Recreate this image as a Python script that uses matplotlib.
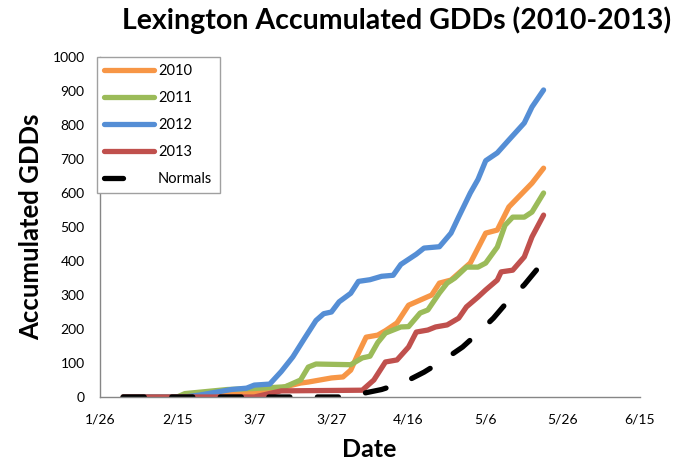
import matplotlib
matplotlib.use('Agg')
import matplotlib.pyplot as plt
from matplotlib.lines import Line2D
import pandas as pd

plt.rcParams['font.family'] = ['Lato', 'DejaVu Sans']

YEAR = '2013'

dates_2010 = ['2/1', '2/19', '2/25', '3/7', '3/12', '3/15', '3/19', '3/21', '3/27', '3/30',
              '4/1', '4/3', '4/5', '4/8', '4/10', '4/13', '4/16', '4/19', '4/22', '4/24',
              '4/27', '5/2', '5/6', '5/9', '5/12', '5/15', '5/18', '5/21']
gdd_2010 = [0, 0, 5, 12, 20, 30, 41, 44, 56, 59,
            79, 129, 176, 182, 195, 218, 270, 285, 300, 335,
            344, 394, 482, 491, 559, 594, 629, 673]

dates_2011 = ['2/1', '2/15', '2/17', '2/28', '3/7', '3/15', '3/19', '3/21', '3/23', '4/1',
              '4/4', '4/6', '4/8', '4/10', '4/14', '4/16', '4/19', '4/21', '4/24', '4/26',
              '4/28', '5/1', '5/4', '5/6', '5/9', '5/11', '5/13', '5/16', '5/18', '5/21']
gdd_2011 = [0, 0, 10, 22, 25, 30, 50, 88, 97, 95,
            115, 120, 160, 188, 206, 207, 247, 256, 306, 335,
            350, 382, 382, 394, 441, 505, 529, 529, 544, 600]

dates_2012 = ['2/1', '2/17', '2/21', '3/1', '3/5', '3/7', '3/11', '3/14', '3/17', '3/20',
              '3/23', '3/25', '3/27', '3/29', '4/1', '4/3', '4/6', '4/9', '4/12', '4/14',
              '4/18', '4/20', '4/24', '4/27', '4/29', '5/2', '5/4', '5/6', '5/9', '5/12',
              '5/16', '5/18', '5/21']
gdd_2012 = [0, 0, 6, 22, 26, 35, 38, 75, 118, 172,
            225, 245, 250, 280, 305, 340, 345, 355, 358, 390,
            420, 438, 442, 482, 530, 600, 640, 695, 718, 756,
            806, 853, 903]

dates_2013 = ['2/1', '3/7', '3/14', '4/4', '4/7', '4/10', '4/13', '4/16', '4/18', '4/21',
              '4/23', '4/26', '4/29', '5/1', '5/4', '5/6', '5/9', '5/10', '5/13', '5/16',
              '5/18', '5/21']
gdd_2013 = [0, 0, 18, 20, 50, 103, 109, 147, 191, 197,
            206, 212, 232, 265, 294, 315, 344, 368, 373, 412,
            471, 535]

dates_normals = ['2/1', '3/31', '4/3', '4/9', '4/15', '4/20', '4/25', '4/30', '5/4', '5/8',
                 '5/12', '5/16', '5/20', '5/21']
gdd_normals = [0, 0, 8, 22, 44, 73, 108, 147, 188, 232,
               285, 330, 385, 410]

tick_dates = ['1/26', '2/15', '3/7', '3/27', '4/16', '5/6', '5/26', '6/15']

colors = {'2010': '#F79646', '2011': '#9BBB59', '2012': '#558ED5', '2013': '#C0504D'}


def to_dt(lst):
    return pd.to_datetime([d + '/' + YEAR for d in lst], format='%m/%d/%Y')


fig = plt.figure(figsize=(6.88, 4.61), dpi=100)
ax = fig.add_axes([100 / 688, 1 - 397 / 461, 540 / 688, 340 / 461])

lw = 3.8
series = [('2010', dates_2010, gdd_2010), ('2011', dates_2011, gdd_2011),
          ('2012', dates_2012, gdd_2012), ('2013', dates_2013, gdd_2013)]
handles = []
for name, d, v in series:
    h, = ax.plot(to_dt(d), v, color=colors[name], lw=lw, label=name,
                 solid_capstyle='round', solid_joinstyle='round')
    handles.append(h)
ax.plot(to_dt(dates_normals), gdd_normals, color='black', lw=lw,
        dashes=(4, 5.2), dash_capstyle='round')
# legend sample for normals shows one dash only
handles.append(Line2D([], [], color='black', lw=lw, dashes=(3.6, 20),
                      dash_capstyle='round', label='Normals'))

ticks = to_dt(tick_dates)
ax.set_xlim(ticks[0], ticks[-1])
ax.set_xticks(ticks)
ax.set_xticklabels(tick_dates)
ax.set_ylim(0, 1000)
ax.set_yticks(range(0, 1001, 100))
ax.tick_params(length=0, labelsize=10, colors='black', pad=11)
ax.tick_params(axis='x', pad=12)

for s in ['top', 'right']:
    ax.spines[s].set_visible(False)
for s in ['left', 'bottom']:
    ax.spines[s].set_color('#868686')
    ax.spines[s].set_linewidth(1)

leg = ax.legend(handles=handles, loc='upper left', bbox_to_anchor=(-0.006, 1.0),
                borderaxespad=0, fancybox=False, edgecolor='#A0A0A0', fontsize=10.5,
                handlelength=3.4, handletextpad=0.3, labelspacing=0.88,
                borderpad=0.5, framealpha=1)
leg.get_frame().set_linewidth(1)

fig.text(397 / 688, 1 - 20 / 461, 'Lexington Accumulated GDDs (2010-2013)',
         ha='center', va='center', fontsize=20.5, fontweight='bold')
fig.text(31 / 688, 1 - 227 / 461, 'Accumulated GDDs', rotation=90,
         ha='center', va='center', fontsize=18.5, fontweight='bold')
fig.text(369 / 688, 1 - 449 / 461, 'Date', ha='center', va='center',
         fontsize=18, fontweight='bold')

fig.savefig('out.png', dpi=100)
